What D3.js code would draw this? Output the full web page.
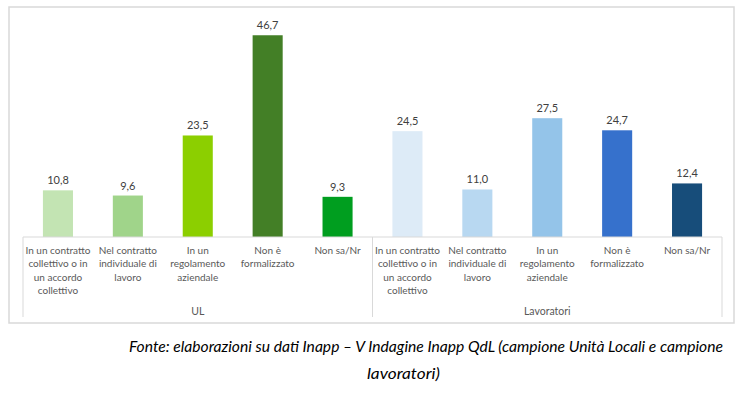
<!DOCTYPE html>
<html>
<head>
<meta charset="utf-8">
<script src="https://cdn.jsdelivr.net/npm/d3@7"></script>
<style>
  body { margin: 0; background: #ffffff; }
  svg { display: block; }
</style>
</head>
<body>
<div id="chart"></div>
<script>
// values
var groups = ["UL", "Lavoratori"];
var categories = [
  ["In un contratto", "collettivo o in", "un accordo", "collettivo"],
  ["Nel contratto", "individuale di", "lavoro"],
  ["In un", "regolamento", "aziendale"],
  ["Non è", "formalizzato"],
  ["Non sa/Nr"]
];
var ulValues = [10.8, 9.6, 23.5, 46.7, 9.3];
var lavValues = [24.5, 11.0, 27.5, 24.7, 12.4];
var ulColors = ["#c3e4b3", "#a0d48a", "#8ccf00", "#437f26", "#009e1f"];
var lavColors = ["#ddebf7", "#b8d8f1", "#94c4e9", "#3671cc", "#174d7a"];
var footLines = [
  "Fonte: elaborazioni su dati Inapp – V Indagine Inapp QdL (campione Unità Locali e campione",
  "lavoratori)"
];

var W = 747, H = 394;
var svg = d3.select("#chart").append("svg").attr("width", W).attr("height", H);

// outer frame
svg.append("rect")
  .attr("x", 9).attr("y", 7).attr("width", 725).attr("height", 316)
  .attr("fill", "none").attr("stroke", "#d9d9d9").attr("stroke-width", 1.5);

var rows = [];
groups.forEach(function(g, gi) {
  var vals = gi == 0 ? ulValues : lavValues;
  var cols = gi == 0 ? ulColors : lavColors;
  categories.forEach(function(c, ci) {
    rows.push({ key: g + "|" + ci, group: g, lines: c, value: vals[ci], color: cols[ci] });
  });
});

var x0 = 23, x1 = 722, base = 237;
var x = d3.scaleBand().domain(rows.map(function(d) { return d.key; }))
  .range([x0, x1]).paddingInner(0.57).paddingOuter(0.285);
var y = d3.scaleLinear().domain([0, 50]).range([base, base - 216]);

var font = "Lato, 'Liberation Sans', sans-serif";

svg.selectAll("rect.bar").data(rows).enter().append("rect")
  .attr("class", "bar")
  .attr("x", function(d) { return x(d.key); })
  .attr("width", x.bandwidth())
  .attr("y", function(d) { return y(d.value); })
  .attr("height", function(d) { return y(0) - y(d.value); })
  .attr("fill", function(d) { return d.color; });

svg.selectAll("text.val").data(rows).enter().append("text")
  .attr("class", "val")
  .attr("x", function(d) { return x(d.key) + x.bandwidth() / 2; })
  .attr("y", function(d) { return y(d.value) - 6; })
  .attr("text-anchor", "middle")
  .attr("font-family", font).attr("font-size", 11).attr("fill", "#404040")
  .text(function(d) { return d.value.toFixed(1).replace(".", ","); });

// axis line and group separators
svg.append("line").attr("x1", x0).attr("x2", x1).attr("y1", base).attr("y2", base)
  .attr("stroke", "#d9d9d9").attr("stroke-width", 1);
var step = x.step();
var seps = [x0, x0 + step * categories.length, x1];
svg.selectAll("line.sep").data(seps).enter().append("line")
  .attr("class", "sep")
  .attr("x1", function(d) { return d; }).attr("x2", function(d) { return d; })
  .attr("y1", base).attr("y2", 317)
  .attr("stroke", "#d9d9d9").attr("stroke-width", 1);

// category labels
var lab = svg.selectAll("text.cat").data(rows).enter().append("text")
  .attr("class", "cat")
  .attr("text-anchor", "middle")
  .attr("font-family", font).attr("font-size", 10).attr("fill", "#595959");
lab.each(function(d) {
  var t = d3.select(this);
  var cx = x(d.key) + x.bandwidth() / 2;
  d.lines.forEach(function(l, i) {
    t.append("tspan").attr("x", cx).attr("y", 254 + i * 13.3).text(l);
  });
});

// group labels
svg.selectAll("text.grp").data(groups).enter().append("text")
  .attr("class", "grp")
  .attr("x", function(d, i) { return (seps[i] + seps[i + 1]) / 2; })
  .attr("y", 315)
  .attr("text-anchor", "middle")
  .attr("font-family", font).attr("font-size", 10.5).attr("fill", "#595959")
  .text(function(d) { return d; });

// source note
svg.append("text")
  .attr("x", 129).attr("y", 352)
  .attr("font-family", font).attr("font-style", "italic").attr("font-size", 15.5)
  .attr("fill", "#000000")
  .attr("textLength", 594).attr("lengthAdjust", "spacingAndGlyphs")
  .text(footLines[0]);
svg.append("text")
  .attr("x", 367).attr("y", 379)
  .attr("font-family", font).attr("font-style", "italic").attr("font-size", 15.5)
  .attr("fill", "#000000")
  .attr("textLength", 73).attr("lengthAdjust", "spacingAndGlyphs")
  .text(footLines[1]);
</script>
</body>
</html>
